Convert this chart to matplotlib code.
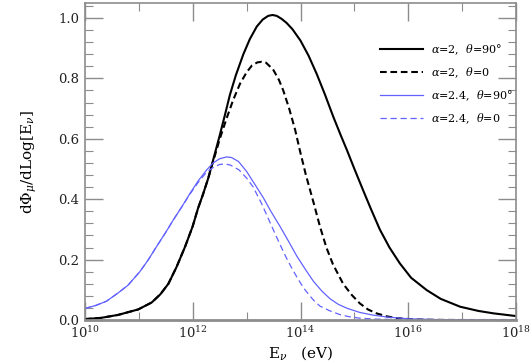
import numpy as np
import matplotlib
matplotlib.use("Agg")
import matplotlib.pyplot as plt
from matplotlib.ticker import FixedLocator, NullFormatter

plt.rcParams['font.family'] = 'DejaVu Serif'
plt.rcParams['mathtext.fontset'] = 'dejavuserif'

# log10(E_nu / eV) and dPhi/dLog[E]
x_a2_90 = [10.0, 10.3, 10.62, 10.99, 11.24, 11.4, 11.55, 11.7, 11.86, 12.0, 12.1,
           12.19, 12.29, 12.38, 12.5, 12.6, 12.69, 12.8, 12.94, 13.06, 13.19,
           13.3, 13.4, 13.48, 13.56, 13.65, 13.74, 13.85, 14.0, 14.15, 14.3,
           14.45, 14.61, 14.75, 14.86, 15.0, 15.16, 15.3, 15.47, 15.65, 15.84,
           16.05, 16.34, 16.6, 16.96, 17.3, 17.58, 18.0]
y_a2_90 = [0.003, 0.007, 0.017, 0.035, 0.058, 0.085, 0.12, 0.175, 0.243, 0.31, 0.37,
           0.415, 0.47, 0.53, 0.61, 0.68, 0.745, 0.81, 0.88, 0.93, 0.972,
           0.995, 1.007, 1.01, 1.007, 0.997, 0.984, 0.963, 0.925, 0.875, 0.815,
           0.748, 0.672, 0.61, 0.563, 0.5, 0.43, 0.37, 0.3, 0.24, 0.188,
           0.14, 0.099, 0.07, 0.044, 0.03, 0.022, 0.013]

x_a2_0 = [10.0, 10.3, 10.62, 10.99, 11.24, 11.4, 11.55, 11.7, 11.86, 12.0, 12.1,
          12.19, 12.29, 12.38, 12.5, 12.63, 12.75, 12.88, 13.0, 13.1, 13.2,
          13.28, 13.36, 13.49, 13.6, 13.68, 13.79, 13.9, 13.99, 14.1, 14.24,
          14.36, 14.48, 14.6, 14.79, 14.95, 15.1, 15.25, 15.41, 15.6, 15.8,
          16.1, 16.5, 17.0, 18.0]
y_a2_0 = [0.003, 0.007, 0.017, 0.035, 0.058, 0.085, 0.12, 0.175, 0.243, 0.31, 0.37,
          0.415, 0.47, 0.525, 0.598, 0.668, 0.728, 0.783, 0.82, 0.843, 0.853,
          0.855, 0.852, 0.83, 0.795, 0.76, 0.7, 0.63, 0.56, 0.48, 0.39,
          0.31, 0.24, 0.185, 0.12, 0.083, 0.055, 0.035, 0.022, 0.012, 0.006,
          0.002, 0.0005, 0.0, 0.0]

x_a24_90 = [10.0, 10.2, 10.4, 10.62, 10.8, 11.02, 11.18, 11.33, 11.5, 11.64, 11.8,
            11.95, 12.1, 12.26, 12.38, 12.5, 12.63, 12.72, 12.85, 13.0, 13.15,
            13.31, 13.45, 13.62, 13.78, 13.93, 14.1, 14.24, 14.4, 14.55, 14.7,
            14.86, 15.1, 15.35, 15.6, 16.0, 16.5, 17.0, 18.0]
y_a24_90 = [0.038, 0.048, 0.062, 0.09, 0.115, 0.16, 0.2, 0.243, 0.29, 0.331, 0.375,
            0.419, 0.46, 0.497, 0.52, 0.534, 0.54, 0.538, 0.525, 0.492, 0.45,
            0.405, 0.36, 0.31, 0.26, 0.212, 0.165, 0.128, 0.095, 0.07, 0.052,
            0.039, 0.025, 0.016, 0.01, 0.004, 0.0015, 0.0005, 0.0]

x_a24_0 = [10.0, 10.2, 10.4, 10.62, 10.8, 11.02, 11.18, 11.33, 11.5, 11.64, 11.8,
           11.95, 12.1, 12.26, 12.38, 12.5, 12.6, 12.7, 12.86, 13.0, 13.12,
           13.28, 13.43, 13.53, 13.62, 13.74, 13.85, 13.93, 14.05, 14.15, 14.24,
           14.36, 14.55, 14.73, 14.9, 15.1, 15.4, 16.0, 17.0, 18.0]
y_a24_0 = [0.038, 0.048, 0.062, 0.09, 0.115, 0.16, 0.2, 0.243, 0.29, 0.331, 0.375,
           0.417, 0.455, 0.49, 0.505, 0.515, 0.517, 0.513, 0.497, 0.47, 0.441,
           0.385, 0.325, 0.285, 0.25, 0.205, 0.168, 0.143, 0.108, 0.085, 0.066,
           0.046, 0.03, 0.018, 0.011, 0.006, 0.003, 0.0005, 0.0, 0.0]

labels = [r'$\alpha$=2,  $\theta$=90$\degree$', r'$\alpha$=2,  $\theta$=0',
          r'$\alpha$=2.4,  $\theta$=90$\degree$', r'$\alpha$=2.4,  $\theta$=0']

blue = '#6262ff'
grey = '#8c8c8c'

fig = plt.figure(figsize=(5.3, 3.62), dpi=100)
ax = fig.add_axes([0.160, 0.116, 0.814, 0.876])

ax.plot(10**np.array(x_a2_90), y_a2_90, color='k', lw=1.5, label=labels[0])
ax.plot(10**np.array(x_a2_0), y_a2_0, color='k', lw=1.5, ls=(0, (3.2, 1.8)), label=labels[1])
ax.plot(10**np.array(x_a24_90), y_a24_90, color=blue, lw=0.9, label=labels[2])
ax.plot(10**np.array(x_a24_0), y_a24_0, color=blue, lw=0.9, ls=(0, (5, 3)), label=labels[3])

ax.set_xscale('log')
ax.set_xlim(1e10, 1e18)
ax.set_ylim(0, 1.05)

ax.xaxis.set_major_locator(FixedLocator([1e10, 1e12, 1e14, 1e16, 1e18]))
ax.xaxis.set_minor_locator(FixedLocator([1e11, 1e13, 1e15, 1e17]))
ax.xaxis.set_minor_formatter(NullFormatter())
ax.set_xticklabels([r'$10^{10}$', r'$10^{12}$', r'$10^{14}$', r'$10^{16}$', r'$10^{18}$'])
ax.set_yticks(np.arange(0, 1.01, 0.2))
ax.set_yticks(np.arange(0, 1.05, 0.04), minor=True)
ax.set_yticklabels(['0.0', '0.2', '0.4', '0.6', '0.8', '1.0'])

ax.tick_params(which='both', direction='in', top=True, right=True, color=grey,
               labelsize=9.5, labelcolor='#222222')
ax.tick_params(which='major', length=13, width=1.0, pad=4)
ax.tick_params(which='minor', length=6, width=0.8)
for s in ax.spines.values():
    s.set_color(grey)
    s.set_linewidth(1.2)
ax.spines['bottom'].set_linewidth(2.0)

ax.set_xlabel(r'E$_\nu$   (eV)', fontsize=11, labelpad=2)
ax.set_ylabel(r'd$\Phi_\mu$/dLog[E$_\nu$]', fontsize=11, labelpad=14)

ax.legend(loc='upper left', bbox_to_anchor=(0.684, 0.875), frameon=False, fontsize=8,
          handlelength=3.9, handletextpad=0.7, labelspacing=0.75,
          borderpad=0, borderaxespad=0)

fig.savefig('out.png', dpi=100)
